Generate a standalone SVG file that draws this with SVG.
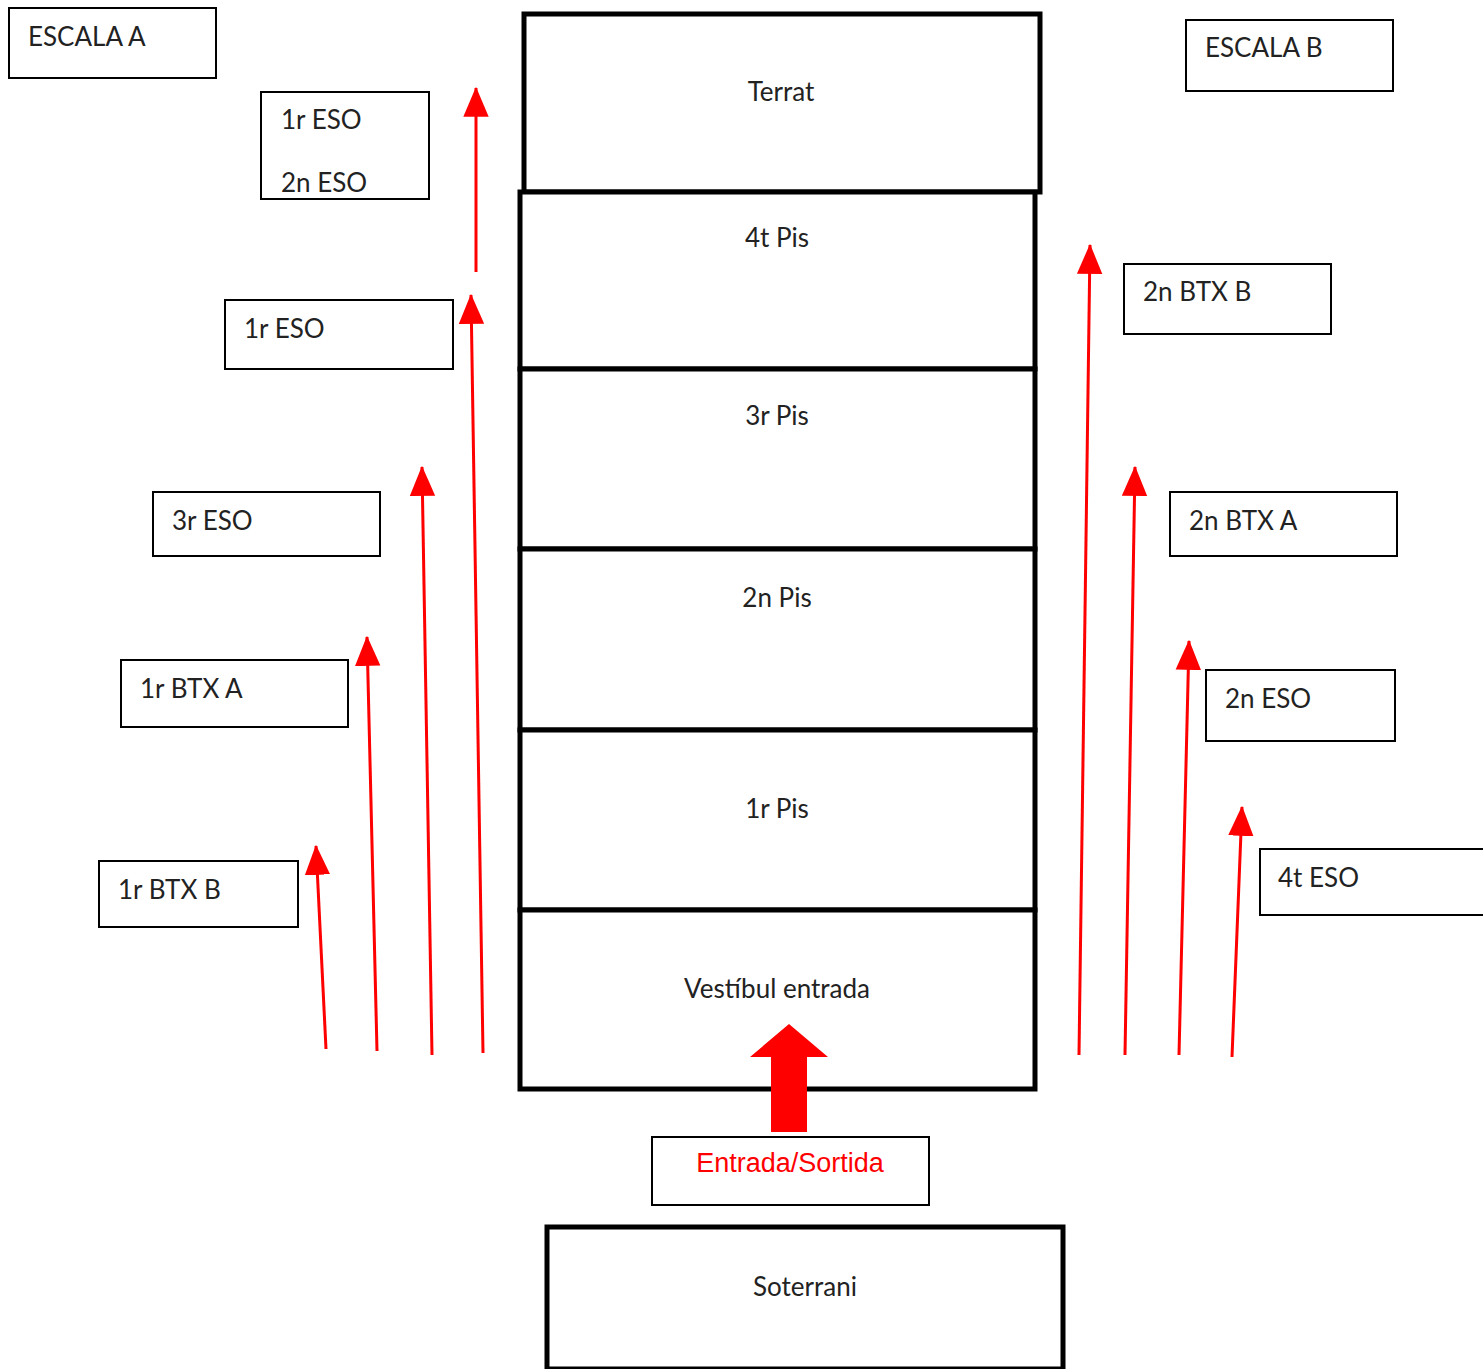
<svg xmlns="http://www.w3.org/2000/svg" width="1483" height="1369" viewBox="0 0 1483 1369">
<style>
.lbl{fill:#fff;stroke:#000;stroke-width:2}
.floor{fill:#fff;stroke:#000;stroke-width:5}
.t{font-family:Lato,"Liberation Sans",Arial,sans-serif;font-size:26px;fill:#222}
.c{text-anchor:middle}
.red{font-family:"Liberation Sans",Arial,sans-serif;font-size:27px;fill:#ff0000}
.arr{stroke:#ff0000;stroke-width:3;fill:none;marker-end:url(#ah)}
</style>
<defs>
<marker id="ah" markerUnits="userSpaceOnUse" markerWidth="30" markerHeight="30" viewBox="0 0 26 24" refX="25" refY="12" orient="auto">
<path d="M0,1 L26,12 L0,23 Z" fill="#ff0000"/>
</marker>
</defs>
<rect width="1483" height="1369" fill="#fff"/>

<g id="floor-terrat"><rect class="floor" x="524" y="14" width="516" height="178"/><text class="t c" x="781" y="101">Terrat</text></g>
<g id="floor-4"><rect class="floor" x="520" y="192" width="515" height="177"/><text class="t c" x="777" y="247">4t Pis</text></g>
<g id="floor-3"><rect class="floor" x="520" y="369" width="515" height="180"/><text class="t c" x="777" y="425">3r Pis</text></g>
<g id="floor-2"><rect class="floor" x="520" y="549" width="515" height="181"/><text class="t c" x="777" y="607">2n Pis</text></g>
<g id="floor-1"><rect class="floor" x="520" y="730" width="515" height="180"/><text class="t c" x="777" y="818">1r Pis</text></g>
<g id="floor-vestibul"><rect class="floor" x="520" y="910" width="515" height="179"/><text class="t c" x="777" y="998">Vestíbul entrada</text></g>
<g id="floor-soterrani"><rect class="floor" x="547" y="1227" width="516" height="142"/><text class="t c" x="805" y="1296">Soterrani</text></g>

<g id="escala-a"><rect class="lbl" x="9" y="8" width="207" height="70"/><text class="t" x="28" y="46">ESCALA A</text></g>
<g id="lbl-1r2n-eso"><rect class="lbl" x="261" y="92" width="168" height="107"/><text class="t" x="281" y="129">1r ESO</text><text class="t" x="281" y="192">2n ESO</text></g>
<g id="lbl-1r-eso"><rect class="lbl" x="225" y="300" width="228" height="69"/><text class="t" x="244" y="338">1r ESO</text></g>
<g id="lbl-3r-eso"><rect class="lbl" x="153" y="492" width="227" height="64"/><text class="t" x="172" y="530">3r ESO</text></g>
<g id="lbl-1r-btx-a"><rect class="lbl" x="121" y="660" width="227" height="67"/><text class="t" x="140" y="698">1r BTX A</text></g>
<g id="lbl-1r-btx-b"><rect class="lbl" x="99" y="861" width="199" height="66"/><text class="t" x="118" y="899">1r BTX B</text></g>

<g id="escala-b"><rect class="lbl" x="1186" y="20" width="207" height="71"/><text class="t" x="1205" y="57">ESCALA B</text></g>
<g id="lbl-2n-btx-b"><rect class="lbl" x="1124" y="264" width="207" height="70"/><text class="t" x="1143" y="301">2n BTX B</text></g>
<g id="lbl-2n-btx-a"><rect class="lbl" x="1170" y="492" width="227" height="64"/><text class="t" x="1189" y="530">2n BTX A</text></g>
<g id="lbl-2n-eso"><rect class="lbl" x="1206" y="670" width="189" height="71"/><text class="t" x="1225" y="708">2n ESO</text></g>
<g id="lbl-4t-eso"><rect class="lbl" x="1260" y="849" width="226" height="66"/><text class="t" x="1278" y="887">4t ESO</text></g>

<g id="lbl-entrada"><rect class="lbl" x="652" y="1137" width="277" height="68"/><text class="c red" x="790" y="1172">Entrada/Sortida</text></g>

<g id="connectors">
<line class="arr" x1="476" y1="272" x2="476" y2="88"/>
<line class="arr" x1="483" y1="1053" x2="471" y2="295"/>
<line class="arr" x1="432" y1="1055" x2="422" y2="467"/>
<line class="arr" x1="377" y1="1051" x2="367" y2="637"/>
<line class="arr" x1="326" y1="1049" x2="316" y2="846"/>
<line class="arr" x1="1079" y1="1055" x2="1090" y2="245"/>
<line class="arr" x1="1125" y1="1055" x2="1135" y2="467"/>
<line class="arr" x1="1179" y1="1055" x2="1189" y2="641"/>
<line class="arr" x1="1232" y1="1057" x2="1242" y2="807"/>
<path id="big-arrow" d="M771,1132 L771,1057 L750,1057 L789,1024 L828,1057 L807,1057 L807,1132 Z" fill="#ff0000"/>
</g>
</svg>
